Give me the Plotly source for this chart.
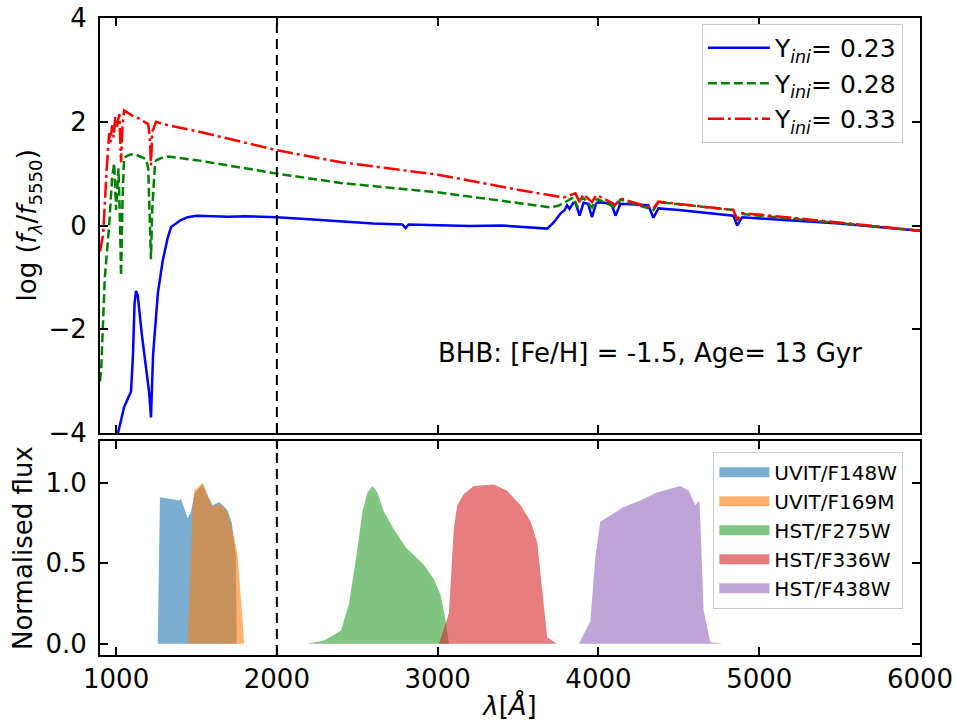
import plotly.graph_objects as go

# ---------------- data ----------------
blue_wl = [990, 1012, 1050, 1080, 1093, 1105, 1115, 1124, 1135, 1160, 1190, 1205, 1217, 1230, 1260, 1290,
           1320, 1342, 1400, 1445, 1500, 1600, 1700, 1800, 1900, 2000, 2200, 2400, 2600, 2780, 2800, 2820,
           3000, 3200, 3400, 3515, 3600, 3681, 3722, 3764, 3790, 3805, 3820, 3845, 3857, 3883, 3907, 3935,
           3960, 3985, 4000, 4080, 4106, 4137, 4200, 4310, 4342, 4373, 4500, 4700, 4839, 4863, 4894, 5130,
           5500, 6000]
blue_val = [-4.5, -4.0, -3.5, -3.3, -3.2, -2.5, -1.5, -1.26, -1.35, -2.1, -2.9, -3.2, -3.7, -2.5, -1.3, -0.68,
            -0.25, -0.03, 0.1, 0.16, 0.19, 0.18, 0.17, 0.18, 0.17, 0.16, 0.12, 0.08, 0.04, 0.02, -0.05, 0.02,
            0.0, -0.01, 0.0, -0.02, -0.04, -0.06, 0.06, 0.23, 0.3, 0.39, 0.32, 0.44, 0.44, 0.19, 0.44, 0.42,
            0.16, 0.42, 0.45, 0.42, 0.19, 0.42, 0.41, 0.39, 0.15, 0.33, 0.30, 0.24, 0.19, 0.0, 0.16, 0.11,
            0.04, -0.1]

green_wl = [900, 907, 930, 957, 975, 988, 1000, 1015, 1025, 1031, 1040, 1050, 1080, 1112, 1150, 1186, 1200,
            1210, 1217, 1225, 1240, 1248, 1280, 1323, 1500, 2000, 2398, 3000, 3515, 3600, 3702, 3750, 3783,
            3845, 3870, 3885, 3910, 3960, 3985, 4000, 4106, 4137, 4342, 4373, 4839, 4863, 4894, 5200, 6000]
green_val = [-3.0, -2.8, -1.0, 0.0, 0.9, 1.2, 0.3, 1.1, 0.0, -0.97, 0.5, 1.31, 1.36, 1.38, 1.33, 1.28, 1.1,
             0.2, -0.65, 0.3, 1.1, 1.25, 1.3, 1.33, 1.26, 1.0, 0.82, 0.64, 0.43, 0.40, 0.35, 0.38, 0.44,
             0.54, 0.35, 0.5, 0.52, 0.35, 0.5, 0.5, 0.35, 0.5, 0.3, 0.45, 0.3, 0.1, 0.22, 0.13, -0.1]

red_wl = [900, 920, 940, 957, 965, 975, 985, 995, 1005, 1020, 1031, 1040, 1050, 1100, 1150, 1200, 1210,
          1217, 1225, 1240, 1248, 1300, 1500, 2000, 2398, 3000, 3515, 3783, 3830, 3857, 3883, 3907, 3960,
          3985, 4000, 4106, 4137, 4342, 4373, 4839, 4863, 4894, 5200, 6000]
red_val = [-0.5, -0.16, 1.0, 1.78, 1.6, 1.93, 1.7, 2.1, 1.9, 2.15, 1.22, 1.9, 2.22, 2.12, 2.05, 1.95, 1.7,
           1.16, 1.8, 1.95, 2.0, 1.95, 1.82, 1.45, 1.22, 0.98, 0.68, 0.54, 0.6, 0.62, 0.45, 0.6, 0.45,
           0.58, 0.57, 0.4, 0.52, 0.33, 0.46, 0.3, 0.12, 0.24, 0.15, -0.1]

spec_names = ["Y<sub><i>ini</i></sub>= 0.23", "Y<sub><i>ini</i></sub>= 0.28", "Y<sub><i>ini</i></sub>= 0.33"]

f148w_wl = [1259, 1273, 1342, 1393, 1404, 1445, 1466, 1487, 1538, 1559, 1600, 1642, 1693, 1720, 1745, 1750]
f148w_val = [0.0, 0.91, 0.90, 0.89, 0.90, 0.78, 0.82, 0.93, 0.99, 0.94, 0.86, 0.88, 0.83, 0.75, 0.54, 0.0]

f169m_wl = [1445, 1476, 1487, 1538, 1559, 1600, 1642, 1693, 1735, 1756, 1776, 1797]
f169m_val = [0.0, 0.85, 0.95, 1.0, 0.95, 0.85, 0.87, 0.82, 0.66, 0.55, 0.28, 0.0]

f275w_wl = [2191, 2294, 2398, 2449, 2501, 2532, 2563, 2594, 2625, 2666, 2728, 2801, 2853, 2915, 2977,
            3019, 3050, 3070]
f275w_val = [0.0, 0.02, 0.08, 0.25, 0.59, 0.82, 0.94, 0.98, 0.94, 0.82, 0.71, 0.60, 0.55, 0.49, 0.40,
             0.30, 0.14, 0.0]

f336w_wl = [3008, 3070, 3101, 3122, 3163, 3225, 3349, 3432, 3516, 3578, 3619, 3650, 3681, 3743]
f336w_val = [0.0, 0.19, 0.72, 0.86, 0.93, 0.98, 0.99, 0.95, 0.86, 0.76, 0.63, 0.35, 0.04, 0.0]

f438w_wl = [3878, 3950, 3981, 4012, 4064, 4157, 4261, 4364, 4437, 4509, 4561, 4602, 4629, 4654, 4696, 4776]
f438w_val = [0.0, 0.14, 0.54, 0.76, 0.79, 0.85, 0.89, 0.94, 0.96, 0.98, 0.95, 0.86, 0.89, 0.21, 0.01, 0.0]

filter_names = ["UVIT/F148W", "UVIT/F169M", "HST/F275W", "HST/F336W", "HST/F438W"]

x_ticks = [1000, 2000, 3000, 4000, 5000, 6000]
y_top_ticks = [-4, -2, 0, 2, 4]
y_top_labels = ["\u22124", "\u22122", "0", "2", "4"]
y_bot_ticks = [0.0, 0.5, 1.0]
y_bot_labels = ["0.0", "0.5", "1.0"]

# ---------------- figure ----------------
FONT = "DejaVu Sans"
TICK = 26
fig = go.Figure()

spec_styles = [("#0000ff", "solid"), ("#008000", "9px,4px"), ("#ff0000", "16px,4px,3px,4px")]
for (wl, val), name, (col, dash) in zip(
        [(blue_wl, blue_val), (green_wl, green_val), (red_wl, red_val)], spec_names, spec_styles):
    fig.add_trace(go.Scatter(x=wl, y=val, mode="lines", name=name, xaxis="x", yaxis="y",
                             line=dict(color=col, width=2.5, dash=dash), legend="legend"))

filter_cols = ["rgba(31,119,180,0.6)", "rgba(255,127,14,0.6)", "rgba(44,160,44,0.6)",
               "rgba(214,39,40,0.6)", "rgba(148,103,189,0.6)"]
for i, ((wl, val), name, col) in enumerate(zip(
        [(f148w_wl, f148w_val), (f169m_wl, f169m_val), (f275w_wl, f275w_val),
         (f336w_wl, f336w_val), (f438w_wl, f438w_val)], filter_names, filter_cols)):
    fig.add_trace(go.Scatter(x=wl, y=val, mode="lines", name=name, xaxis="x2", yaxis="y2",
                             fill="toself", fillcolor=col, line=dict(width=0, color=col),
                             legendgroup=f"f{i}", showlegend=False))
    # legend swatch (thick bar, like a filled patch)
    fig.add_trace(go.Scatter(x=[None], y=[None], mode="lines", name=name, xaxis="x2", yaxis="y2",
                             line=dict(width=10, color=col), legendgroup=f"f{i}",
                             legend="legend2", hoverinfo="skip"))

axis_common = dict(showgrid=False, zeroline=False, showline=True, linecolor="black", linewidth=2,
                   ticks="inside", ticklen=8, tickwidth=2, tickcolor="black", mirror="allticks",
                   automargin=False,
                   tickfont=dict(family=FONT, size=TICK, color="black"))

TOP_DOM = [0.3485, 1]
BOT_DOM = [0, 0.336]

fig.update_layout(
    width=957, height=725,
    margin=dict(l=100, r=37, t=18, b=70),
    paper_bgcolor="white", plot_bgcolor="white",
    font=dict(family=FONT, size=22, color="black"),
    xaxis=dict(domain=[0, 1], anchor="y", range=[900, 6000], tickvals=x_ticks,
               showticklabels=False, **axis_common),
    yaxis=dict(domain=TOP_DOM, anchor="x", range=[-4, 4], tickvals=y_top_ticks,
               ticktext=y_top_labels, ticklabelstandoff=6, **axis_common),
    xaxis2=dict(domain=[0, 1], anchor="y2", range=[900, 6000], tickvals=x_ticks,
                title=dict(text="<i>λ</i>[<i>Å</i>]", font=dict(family=FONT, size=TICK), standoff=4),
                **axis_common),
    yaxis2=dict(domain=BOT_DOM, anchor="x2", range=[-0.07, 1.26], tickvals=y_bot_ticks,
                ticktext=y_bot_labels, ticklabelstandoff=6, **axis_common),
    legend=dict(x=0.734, y=0.9906, xanchor="left", yanchor="top", bgcolor="white",
                bordercolor="#cccccc", borderwidth=1, font=dict(family=FONT, size=25),
                itemwidth=62, tracegroupgap=0),
    legend2=dict(x=0.748, y=0.319, xanchor="left", yanchor="top", bgcolor="white",
                 bordercolor="#cccccc", borderwidth=1, font=dict(family=FONT, size=20),
                 itemwidth=50, tracegroupgap=0),
    showlegend=True,
)

# y-axis titles placed as rotated annotations (precise position in the left margin)
fig.add_annotation(x=(29 - 100) / 820, y=sum(TOP_DOM) / 2, xref="paper", yref="paper",
                   text="log (<i>f</i><sub><i>λ</i></sub>/<i>f</i><sub>5550</sub>)", textangle=-90,
                   showarrow=False, xanchor="center", yanchor="middle",
                   font=dict(family=FONT, size=TICK, color="black"))
fig.add_annotation(x=(23 - 100) / 820, y=sum(BOT_DOM) / 2, xref="paper", yref="paper",
                   text="Normalised flux", textangle=-90,
                   showarrow=False, xanchor="center", yanchor="middle",
                   font=dict(family=FONT, size=TICK, color="black"))

# vertical dashed line at 2000 Å in both panels
for xr, yr in [("x", "y domain"), ("x2", "y2 domain")]:
    fig.add_shape(type="line", x0=2000, x1=2000, y0=0, y1=1, xref=xr, yref=yr,
                  line=dict(color="black", width=2, dash="10px,6px"))

fig.add_annotation(x=4323, y=-2.45, xref="x", yref="y", text="BHB: [Fe/H] = -1.5, Age= 13 Gyr",
                   showarrow=False, font=dict(family=FONT, size=26, color="black"))

fig.write_html("out.html")
